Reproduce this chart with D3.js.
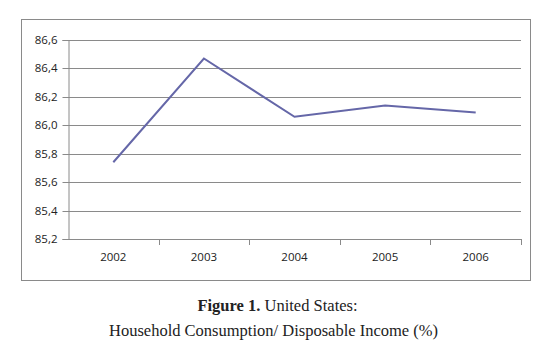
<!DOCTYPE html>
<html><head><meta charset="utf-8">
<script src="https://cdn.jsdelivr.net/npm/d3@7"></script>
<style>body{margin:0;background:#fff}svg{display:block}</style>
</head><body>
<script>
const years = ["2002","2003","2004","2005","2006"];
const values = [85.74, 86.47, 86.06, 86.14, 86.09];
const yTicks = [85.2, 85.4, 85.6, 85.8, 86.0, 86.2, 86.4, 86.6];
const captionBold = "Figure 1.";
const captionRest = " United States:";
const captionLine2 = "Household Consumption/ Disposable Income (%)";

const W = 555, H = 359;
const svg = d3.select("body").append("svg").attr("width", W).attr("height", H);

svg.append("rect").attr("x", 21.5).attr("y", 19.5).attr("width", 509).attr("height", 261)
  .attr("fill", "#fff").attr("stroke", "#8a8a8a").attr("stroke-width", 1);

const x = d3.scaleBand().domain(years).range([68, 521]);
const y = d3.scaleLinear().domain([85.2, 86.6]).range([239, 40]);

const fmt = d => d.toFixed(1).replace(".", ",");

// gridlines
svg.append("g").selectAll("line").data(yTicks).join("line")
  .attr("x1", 68).attr("x2", 521)
  .attr("y1", d => Math.round(y(d)) + 0.5).attr("y2", d => Math.round(y(d)) + 0.5)
  .attr("stroke", "#8a8a8a").attr("stroke-width", 1);

const yAxis = svg.append("g").attr("transform", "translate(68.5,0)")
  .call(d3.axisLeft(y).tickValues(yTicks).tickFormat(fmt).tickSize(6).tickPadding(5));
yAxis.select(".domain").attr("stroke", "#8a8a8a");
yAxis.selectAll(".tick line").attr("stroke", "#8a8a8a");
yAxis.selectAll(".tick").attr("transform", d => `translate(0,${Math.round(y(d)) + 0.5})`);
yAxis.selectAll("text").attr("font-family", "Open Sans, sans-serif").attr("font-size", 11.5).attr("fill", "#222");

const xAxis = svg.append("g").attr("transform", "translate(0,239.5)")
  .call(d3.axisBottom(x).tickSize(0).tickPadding(13));
xAxis.select(".domain").remove();
xAxis.selectAll("text").attr("font-family", "Open Sans, sans-serif").attr("font-size", 11.5).attr("fill", "#222");
// category boundary ticks
const bounds = years.map(d => x(d) + x.bandwidth());
svg.append("g").selectAll("line").data(bounds).join("line")
  .attr("x1", d => Math.round(d) + 0.5).attr("x2", d => Math.round(d) + 0.5)
  .attr("y1", 239).attr("y2", 245).attr("stroke", "#8a8a8a");

const line = d3.line().x((d, i) => x(years[i]) + x.bandwidth() / 2).y(d => y(d));
svg.append("path").datum(values).attr("d", line)
  .attr("fill", "none").attr("stroke", "#6567a8").attr("stroke-width", 2).attr("stroke-linejoin", "miter");

const cap = svg.append("g").attr("font-family", "Liberation Serif, serif").attr("fill", "#222").attr("text-anchor", "middle");
const t1 = cap.append("text").attr("x", 277.5).attr("y", 311).attr("font-size", 16.5);
t1.append("tspan").attr("font-weight", "bold").text(captionBold);
t1.append("tspan").text(captionRest);
cap.append("text").attr("x", 273.5).attr("y", 336).attr("font-size", 16.5).text(captionLine2);
</script>
</body></html>
